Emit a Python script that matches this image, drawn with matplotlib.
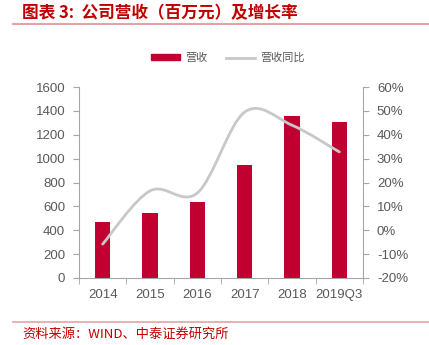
import matplotlib
matplotlib.use("Agg")
import matplotlib.pyplot as plt
import numpy as np
from matplotlib.path import Path
from matplotlib.patches import PathPatch
from matplotlib.lines import Line2D
from matplotlib.patches import Rectangle

plt.rcParams["font.family"] = ["Liberation Sans", "Noto Sans CJK SC", "DejaVu Sans"]

# --- data ---
years = ["2014", "2015", "2016", "2017", "2018", "2019Q3"]
revenue = [469, 545, 637, 947, 1358, 1307]          # 百万元
growth = [-5.8, 16.5, 15.6, 49.5, 44.0, 32.8]        # %

bar_color = "#c00030"
line_color = "#c8c8c8"
axis_color = "#a6a6a6"
text_color = "#595959"
red_text = "#c00000"

fig = plt.figure(figsize=(4.29, 3.45), dpi=100)
ax = fig.add_axes([79 / 429, 67 / 345, 284 / 429, 191 / 345])
ax2 = ax.twinx()

x = np.arange(len(years))
ax.bar(x, revenue, width=0.32, color=bar_color, zorder=2)
ax.set_xlim(-0.5, len(years) - 0.5)
ax.set_ylim(0, 1600)
ax.set_yticks(np.arange(0, 1601, 200))
ax.set_xticks(x)
ax.set_xticklabels(years)
ax.set_xticks(np.arange(-0.5, len(years), 1), minor=True)
ax.tick_params(axis="x", which="major", length=0, pad=8)
ax.tick_params(axis="x", which="minor", length=4, color=axis_color, direction="out")
ax.tick_params(axis="y", length=4, color=axis_color, direction="out", pad=6)
ax.tick_params(labelsize=9.5, labelcolor=text_color)

ax2.set_ylim(-20, 60)
ax2.set_yticks(np.arange(-20, 61, 10))
ax2.set_yticklabels([f"{v}%" for v in range(-20, 61, 10)])
ax2.tick_params(axis="y", length=4, color=axis_color, direction="out", pad=6,
                labelsize=9.5, labelcolor=text_color)

for a in (ax, ax2):
    a.spines["top"].set_visible(False)
    for side in ("left", "right", "bottom"):
        a.spines[side].set_color(axis_color)
ax.spines["right"].set_visible(False)
ax2.spines["left"].set_visible(False)
ax2.spines["bottom"].set_visible(False)

# smoothed growth line (Catmull-Rom as cubic Bezier segments)
pts = np.column_stack([x, growth]).astype(float)
verts = [tuple(pts[0])]
codes = [Path.MOVETO]
n = len(pts)
for i in range(n - 1):
    p0 = pts[max(i - 1, 0)]
    p1 = pts[i]
    p2 = pts[i + 1]
    p3 = pts[min(i + 2, n - 1)]
    c1 = p1 + (p2 - p0) / 6.0
    c2 = p2 - (p3 - p1) / 6.0
    verts += [tuple(c1), tuple(c2), tuple(p2)]
    codes += [Path.CURVE4] * 3
ax2.add_patch(PathPatch(Path(verts, codes), fill=False, edgecolor=line_color,
                        lw=2.0, capstyle="round", zorder=3))

# legend
legend_handles = [Rectangle((0, 0), 1, 1, color=bar_color),
                  Line2D([0], [0], color=line_color, lw=2.0)]
fig.legend(legend_handles, ["营收", "营收同比"], loc="center",
           bbox_to_anchor=(228 / 429, 1 - 58 / 345), ncol=2, frameon=False,
           prop={"family": ["Noto Sans CJK SC"], "size": 8},
           labelcolor=text_color, handlelength=2.6, handleheight=0.5,
           columnspacing=1.6, handletextpad=0.5)

# title and footer
fig.text(22 / 429, 1 - 13 / 345, "图表 3:  公司营收（百万元）及增长率",
         family=["Noto Sans CJK SC"], fontsize=12, fontweight="bold",
         color=red_text, va="center", ha="left", style="italic")
fig.add_artist(Line2D([13 / 429, 1], [1 - 24 / 345, 1 - 24 / 345],
                      color="#e6a3a3", lw=1.5))
fig.add_artist(Line2D([13 / 429, 1], [1 - 322 / 345, 1 - 322 / 345],
                      color="#e6a3a3", lw=1.2))
fig.text(22 / 429, 1 - 334 / 345, "资料来源：WIND、中泰证券研究所",
         family=["Noto Sans CJK SC"], fontsize=9.5, color=red_text,
         va="center", ha="left")

fig.savefig("out.png", dpi=100)
